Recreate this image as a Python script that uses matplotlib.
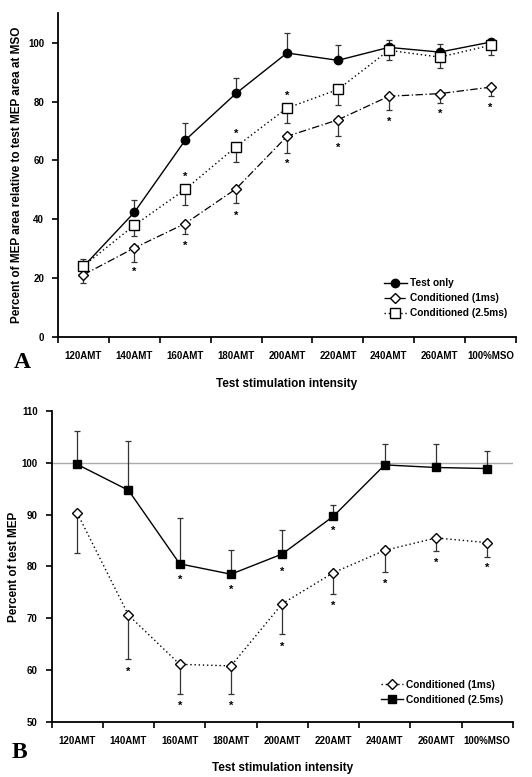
import matplotlib
matplotlib.use("Agg")
import matplotlib.pyplot as plt
from matplotlib.lines import Line2D

plt.rcParams['font.family'] = ['Liberation Sans', 'DejaVu Sans']

cats = ["120AMT", "140AMT", "160AMT", "180AMT", "200AMT", "220AMT", "240AMT", "260AMT", "100%MSO"]

# Panel A
a_test = [24.0, 42.4, 66.9, 82.8, 96.5, 94.0, 98.4, 96.8, 100.2]
a_test_up = [0, 4.1, 5.7, 5.2, 6.8, 5.2, 2.4, 2.6, 0.3]
a_1ms = [21.2, 30.3, 38.6, 50.4, 68.2, 73.8, 81.8, 82.7, 84.9]
a_1ms_dn = [2.7, 4.6, 3.7, 4.8, 5.5, 5.4, 4.7, 3.1, 2.9]
a_25ms = [24.2, 38.0, 50.2, 64.7, 77.8, 84.1, 97.4, 95.1, 99.1]
a_25ms_up = [2.4, 0, 0, 0, 0, 0, 0, 0, 0]
a_25ms_dn = [0, 3.5, 5.2, 5.3, 5.2, 5.3, 3.4, 3.7, 3.4]
a_star_1ms = [None, 22.1, 31.1, 41.3, 58.8, 64.2, 73.1, 75.7, 78.0]
a_star_25ms = [None, None, 54.5, 69.2, 82.0, None, None, None, None]

# Panel B
b_25ms = [99.7, 94.7, 80.5, 78.5, 82.4, 89.7, 99.6, 99.1, 98.9]
b_25ms_up = [6.5, 9.6, 8.8, 4.6, 4.7, 2.2, 4.1, 4.6, 3.3]
b_1ms = [90.3, 70.6, 61.1, 60.8, 72.8, 78.8, 83.1, 85.5, 84.6]
b_1ms_dn = [7.7, 8.5, 5.7, 5.5, 5.8, 4.1, 4.2, 2.5, 2.7]
b_star_25ms = [None, None, 77.5, 75.4, 79.0, 86.9, None, None, None]
b_star_1ms = [None, 59.6, 53.0, 53.0, 64.5, 72.4, 76.7, 80.6, 79.7]

x = list(range(len(cats)))
narrow = ['Liberation Sans Narrow', 'Liberation Sans']
tick_font = dict(fontsize=7, fontweight='bold', family=narrow)
lab_font = dict(fontsize=8.5, fontweight='bold')
ebar = dict(ecolor='#333333', elinewidth=0.9, capsize=2.5, capthick=0.9)
leg_prop = dict(size=7.3, weight='bold', family=narrow)

dashdot = (0, (6, 2, 1, 2))
dotted = (0, (1, 2))


def style_axes(ax):
    for s in ['top', 'right']:
        ax.spines[s].set_visible(False)
    ax.spines['left'].set_linewidth(1.3)
    ax.spines['bottom'].set_linewidth(1.3)
    ax.set_xlim(-0.5, len(cats) - 0.5)
    ax.set_xticks([i - 0.5 for i in range(len(cats) + 1)])
    ax.set_xticklabels([])
    ax.set_xticks(x, minor=True)
    ax.set_xticklabels(cats, minor=True, **tick_font)
    ax.tick_params(axis='x', which='minor', length=0, pad=10)
    ax.tick_params(axis='x', which='major', length=4, width=1.2)
    ax.tick_params(axis='y', length=4, width=1.2, pad=6)
    for t in ax.get_yticklabels():
        t.set_fontweight('bold')
        t.set_fontsize(7)
        t.set_family(narrow)


def stars(ax, vals):
    for i, v in enumerate(vals):
        if v is not None:
            ax.text(i, v, '*', ha='center', va='center', fontsize=8, fontweight='bold')


fig = plt.figure(figsize=(5.32, 7.77), dpi=100)

# ---- A ----
ax1 = fig.add_axes([0.109, 0.566, 0.861, 0.417])
ax1.errorbar(x, a_test, yerr=[[0] * 9, a_test_up], color='black', ls='-', lw=1.0,
             marker='o', ms=6, mfc='black', mec='black', **ebar)
ax1.errorbar(x, a_1ms, yerr=[a_1ms_dn, [0] * 9], color='black', ls=dashdot, lw=0.9,
             marker='D', ms=5, mfc='white', mec='black', **ebar)
ax1.errorbar(x, a_25ms, yerr=[a_25ms_dn, a_25ms_up], color='black', ls=dotted, lw=1.0,
             marker='s', ms=7, mfc='white', mec='black', **ebar)
stars(ax1, a_star_1ms)
stars(ax1, a_star_25ms)
ax1.set_ylim(0, 110)
ax1.set_yticks([0, 20, 40, 60, 80, 100])
style_axes(ax1)
ax1.set_ylabel('Percent of MEP area relative to test MEP area at MSO', **lab_font)
ax1.yaxis.set_label_coords(-0.076, 0.5)
ax1.set_xlabel('Test stimulation intensity', labelpad=12, **lab_font)
h1 = [Line2D([], [], color='black', ls='-', lw=1.0, marker='o', ms=6, mfc='black'),
      Line2D([], [], color='black', ls=dashdot, lw=0.9, marker='D', ms=5, mfc='white'),
      Line2D([], [], color='black', ls=dotted, lw=1.0, marker='s', ms=7, mfc='white')]
ax1.legend(h1, ['Test only', 'Conditioned (1ms)', 'Conditioned (2.5ms)'],
           loc='lower right', bbox_to_anchor=(1.0, 0.03), frameon=False, prop=leg_prop,
           handlelength=2.2, handletextpad=0.3, labelspacing=0.5)
fig.text(0.025, 0.533, 'A', fontsize=17, fontweight='bold', family='Liberation Serif', va='center')

# ---- B ----
ax2 = fig.add_axes([0.097, 0.071, 0.867, 0.400])
ax2.axhline(100, color='#aaaaaa', lw=1.0, zorder=0)
ax2.errorbar(x, b_1ms, yerr=[b_1ms_dn, [0] * 9], color='black', ls=dotted, lw=1.0,
             marker='D', ms=5, mfc='white', mec='black', **ebar)
ax2.errorbar(x, b_25ms, yerr=[[0] * 9, b_25ms_up], color='black', ls='-', lw=1.0,
             marker='s', ms=6, mfc='black', mec='black', **ebar)
stars(ax2, b_star_1ms)
stars(ax2, b_star_25ms)
ax2.set_ylim(50, 110)
ax2.set_yticks([50, 60, 70, 80, 90, 100, 110])
style_axes(ax2)
ax2.set_ylabel('Percent of test MEP', **lab_font)
ax2.yaxis.set_label_coords(-0.069, 0.5)
ax2.set_xlabel('Test stimulation intensity', labelpad=12, **lab_font)
h2 = [Line2D([], [], color='black', ls=dotted, lw=1.0, marker='D', ms=5, mfc='white'),
      Line2D([], [], color='black', ls='-', lw=1.0, marker='s', ms=6, mfc='black')]
ax2.legend(h2, ['Conditioned (1ms)', 'Conditioned (2.5ms)'],
           loc='lower right', bbox_to_anchor=(1.0, 0.025), frameon=False, prop=leg_prop,
           handlelength=2.2, handletextpad=0.3, labelspacing=0.5)
fig.text(0.022, 0.031, 'B', fontsize=17, fontweight='bold', family='Liberation Serif', va='center')

fig.savefig('out.png', dpi=100)
